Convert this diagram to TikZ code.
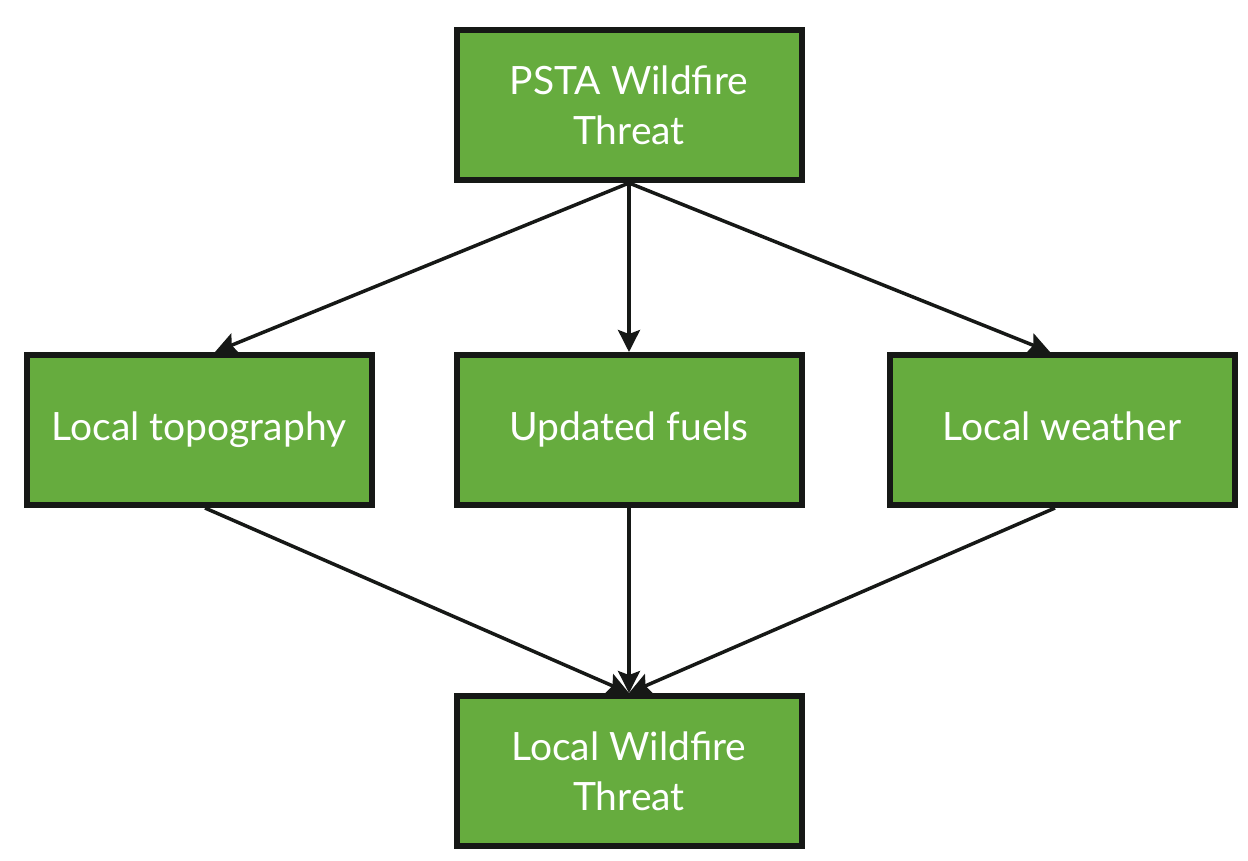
\documentclass[tikz,border=0pt]{standalone}
\usepackage{fontspec}
\setmainfont{Lato}
\usetikzlibrary{arrows.meta}
\definecolor{boxgreen}{RGB}{102,172,62}
\definecolor{boxline}{RGB}{22,24,22}
\begin{document}
\begin{tikzpicture}[x=1pt,y=-1pt,
  box/.style={draw=boxline,line width=6pt,fill=boxgreen,minimum width=345pt,minimum height=150pt,
    text=white,align=center,font=\fontsize{39}{50}\selectfont,inner sep=0pt},
  onebox/.style={box,text height=29pt,text depth=9pt},
  conn/.style={draw=boxline,line width=3.5pt,-{Stealth[length=22pt,width=22pt,inset=4pt]}}]
\fill[white] (0,0) rectangle (1248,860);
\useasboundingbox (0,0) rectangle (1248,860);
\node[box] (top) at (629,105) {PSTA Wildfire\\Threat};
\node[onebox] (l) at (199,430) {Local topography};
\node[onebox] (c) at (629,430) {Updated fuels};
\node[onebox] (r) at (1062,430) {Local weather};
\node[box] (b) at (629,771) {Local Wildfire\\Threat};
\draw[conn] (top.south) -- ([xshift=16pt]l.north);
\draw[conn] (top.south) -- (c.north);
\draw[conn] (top.south) -- ([xshift=-12pt]r.north);
\draw[conn] ([xshift=6pt]l.south) -- (b.north);
\draw[conn] (c.south) -- (b.north);
\draw[conn] ([xshift=-7pt]r.south) -- (b.north);
\end{tikzpicture}
\end{document}
